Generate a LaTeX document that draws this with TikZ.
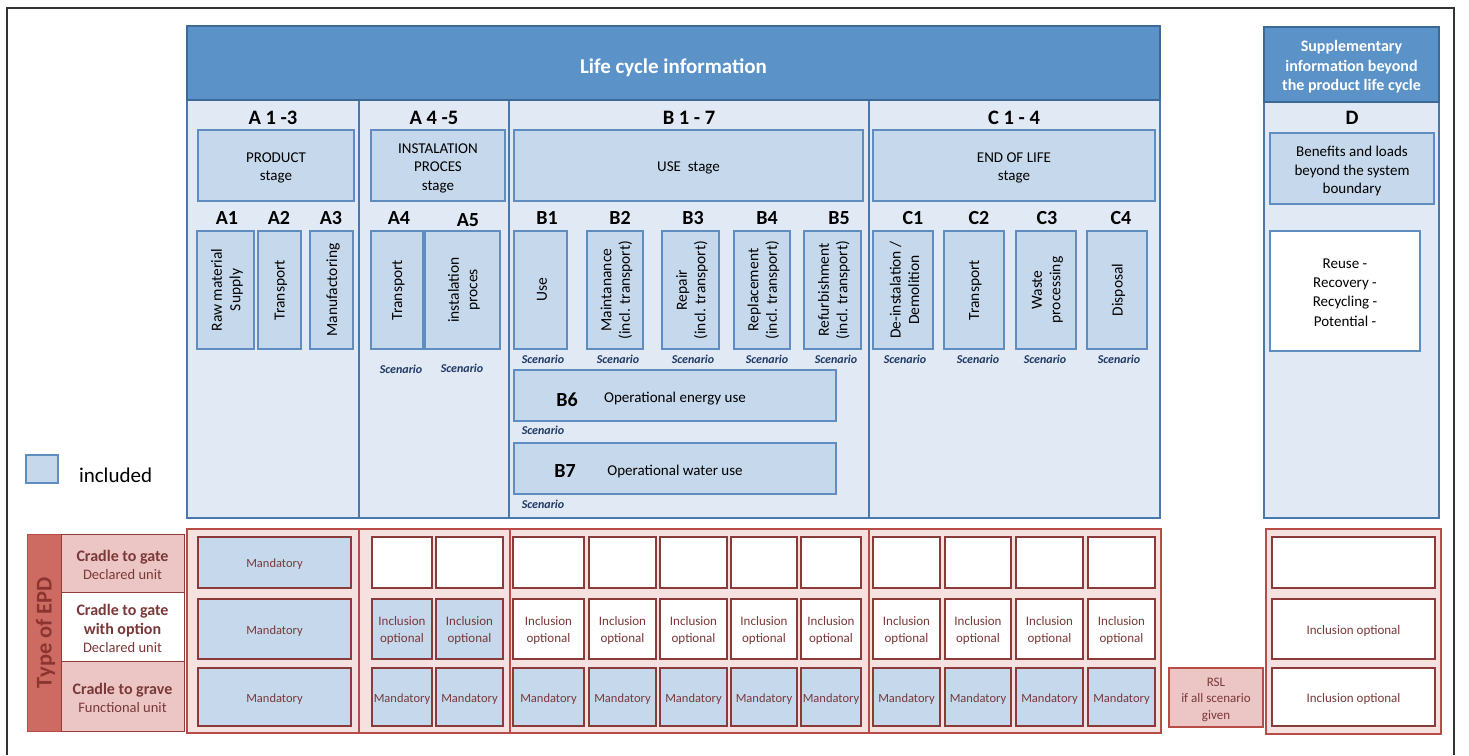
\documentclass[tikz,border=0pt]{standalone}
\usepackage{fontspec}
\setmainfont{Carlito}
\definecolor{hdr}{HTML}{5B92C8}
\definecolor{hdrborder}{HTML}{3D6997}
\definecolor{panel}{HTML}{E0E9F4}
\definecolor{panelborder}{HTML}{4A78AA}
\definecolor{inbox}{HTML}{C5D8EC}
\definecolor{inborder}{HTML}{5F8DC0}
\definecolor{scen}{HTML}{1F3864}
\definecolor{pinkfill}{HTML}{F4E1E0}
\definecolor{grpborder}{HTML}{B84C48}
\definecolor{cellborder}{HTML}{8B3A3A}
\definecolor{celltext}{HTML}{7A3838}
\definecolor{rowpink}{HTML}{EBC6C4}
\definecolor{epdfill}{HTML}{CD6B63}
\definecolor{epdtext}{HTML}{8C3530}
\definecolor{framecol}{HTML}{333333}
\tikzset{tys/.store in=\tys, tys=-2pt}
\newcommand\bx[7][]{%
  \node[#1,minimum width={(#5)-(#3)},minimum height={(#6)-(#4)}] (#2) at ({((#3)+(#5))/2},{((#4)+(#6))/2}) {};
  \node[#1,draw=none,fill=none,yshift=\tys] (#2-t) at (#2.center) {#7};}
\tikzset{
  every node/.style={inner sep=0pt,outer sep=0pt,align=center},
  hdrbox/.style={fill=hdr,draw=hdrborder,line width=2.5pt,text=white,font=\bfseries\fontsize{21}{25}\selectfont,tys=-5pt},
  dhdrbox/.style={fill=hdr,draw=hdrborder,line width=2.5pt,text=white,font=\bfseries\fontsize{16}{19.5}\selectfont,tys=-2.5pt},
  panelbox/.style={fill=panel,draw=panelborder,line width=2pt},
  stagebox/.style={fill=inbox,draw=inborder,line width=1.2pt,font=\fontsize{15}{18.5}\selectfont,tys=-2.5pt},
  wbox/.style={fill=white,draw=inborder,line width=1.2pt,font=\fontsize{15}{19.2}\selectfont,tys=-1.5pt},
  vtext/.style={rotate=90,font=\fontsize{15.5}{18.5}\selectfont},
  sect/.style={font=\bfseries\fontsize{20.5}{24}\selectfont},
  sub/.style={font=\bfseries\fontsize{20}{24}\selectfont},
  scn/.style={text=scen,font=\bfseries\itshape\fontsize{12}{14}\selectfont},
  grp/.style={fill=pinkfill,draw=grpborder,line width=2.8pt},
  cellw/.style={fill=white,draw=cellborder,line width=1.2pt,text=celltext,font=\fontsize{13}{17}\selectfont},
  cellb/.style={fill=inbox,draw=cellborder,line width=1.2pt,text=celltext,font=\fontsize{12.5}{17}\selectfont},
  rowlab/.style={draw=grpborder!80!black,line width=0.8pt,text=celltext,font=\fontsize{14.5}{18.5}\selectfont},
}
\begin{document}
\begin{tikzpicture}[x=1pt,y=-1pt]
\useasboundingbox (0,0) rectangle (1469,755);
\draw[framecol,line width=1.3pt] (7,755) -- (7,8) -- (1454,8) -- (1454,755);

% ---------- upper panels
\bx[panelbox]{colA}{187}{100}{359}{518}{}
\bx[panelbox]{colAA}{359}{100}{509}{518}{}
\bx[panelbox]{colB}{509}{100}{869}{518}{}
\bx[panelbox]{colC}{869}{100}{1160}{518}{}
\bx[hdrbox]{lci}{187}{26}{1160}{100}{Life cycle information}
\bx[panelbox]{colD}{1264}{102}{1439}{518}{}
\bx[dhdrbox]{dhdr}{1264}{27}{1439}{102}{Supplementary\\information beyond\\the product life cycle}

\node[sect] (tA) at (273,118) {A 1 -3};
\node[sect] (tAA) at (434,118) {A 4 -5};
\node[sect] (tB) at (689,118) {B 1 - 7};
\node[sect] (tC) at (1014,118) {C 1 - 4};
\node[sect] (tD) at (1352,118) {D};

\bx[stagebox]{sA}{198}{130}{354}{201}{PRODUCT\\stage}
\bx[stagebox]{sAA}{371}{130}{505}{201}{INSTALATION\\PROCES\\stage}
\bx[stagebox]{sB}{514}{130}{863}{201}{USE\ \ stage}
\bx[stagebox]{sC}{873}{130}{1155}{201}{END OF LIFE\\stage}
\bx[stagebox]{sD}{1270}{133}{1434}{204}{Benefits and loads\\beyond the system\\boundary}
\bx[wbox]{dpot}{1270}{231}{1420}{351}{Reuse -\\Recovery -\\Recycling -\\Potential -}

% module boxes
\foreach \n/\lx/\xa/\xb/\t in {
  A1/227/197/254/{Raw material\\Supply},
  A2/279/258/301/{Transport},
  A3/331/310/353/{Manufactoring},
  A4/399/371/423/{Transport},
  B1/547/514/567/{Use},
  B2/620/587/643/{Maintanance\\(incl. transport)},
  B3/693/662/719/{Repair\\(incl. transport)},
  B4/767/734/790/{Replacement\\(incl. transport)},
  B5/839/804/861/{Refurbishment\\(incl. transport)},
  C1/913/873/933/{De-instalation /\\Demolition},
  C2/979/944/1004/{Transport},
  C3/1047/1016/1076/{Waste\\processing},
  C4/1121/1087/1147/{Disposal}}{
  \node[sub] (l\n) at (\lx,218) {\n};
  \bx[stagebox]{m\n}{\xa}{231}{\xb}{349}{}
  \node[vtext] (v\n) at ([xshift=1.5pt]m\n.center) {\t};
}
\node[sub] (lA5) at (468,220) {A5};
\bx[stagebox]{mA5}{425}{231}{500}{349}{}
\node[vtext] (vA5) at ([xshift=1.5pt]mA5.center) {instalation\\proces};

% scenario labels
\foreach \n/\sx/\sy in {A4/401/369,A5/462/368,B1/543/359,B2/618/359,B3/693/359,B4/767/359,B5/836/359,
  C1/905/359,C2/978/359,C3/1045/359,C4/1119/359,B6/543/430,B7/543/504}{
  \node[scn] (sc\n) at (\sx,\sy) {Scenario};
}

\bx[stagebox]{mB6}{514}{370}{836}{421}{}
\node[sub] (lB6) at (567,400) {B6};
\node[font=\fontsize{15}{18}\selectfont] (tB6) at (675,398.5) {Operational energy use};
\bx[stagebox]{mB7}{514}{443}{836}{494}{}
\node[sub] (lB7) at (565,471) {B7};
\node[font=\fontsize{15}{18}\selectfont] (tB7) at (675,471.5) {Operational water use};

% legend
\bx[fill=inbox,draw=inborder,line width=1.2pt]{leg}{26}{455}{58}{483}{}
\node[font=\fontsize{21}{25}\selectfont,anchor=west] (legt) at (79,475) {included};

% ---------- lower part
\bx[fill=epdfill,draw=grpborder,line width=0.8pt]{epd}{27}{534}{61}{731}{}
\node[rotate=90,text=epdtext,font=\bfseries\fontsize{22.5}{26}\selectfont] (epdt) at ([xshift=1.5pt]epd.center) {Type of EPD};
\bx[rowlab,fill=rowpink]{rl1}{61}{534}{184}{592}{{\bfseries\fontsize{16}{18.5}\selectfont Cradle to gate}\\Declared unit}
\bx[rowlab,fill=white]{rl2}{61}{592}{184}{661}{{\bfseries\fontsize{16}{19}\selectfont Cradle to gate}\\{\bfseries\fontsize{16}{19}\selectfont with option}\\Declared unit}
\bx[rowlab,fill=rowpink]{rl3}{61}{661}{184}{731}{{\bfseries\fontsize{16}{18.5}\selectfont Cradle to grave}\\Functional unit}

\bx[grp]{gA}{187}{529}{359}{733}{}
\bx[grp]{gAA}{359}{529}{510}{733}{}
\bx[grp]{gB}{510}{529}{869}{733}{}
\bx[grp]{gC}{869}{529}{1161}{733}{}
\bx[grp]{gD}{1266}{529}{1441}{734}{}

\bx[cellb]{cA1}{198}{537}{351}{588}{Mandatory}
\bx[cellb]{cA2}{198}{599}{351}{659}{Mandatory}
\bx[cellb]{cA3}{198}{668}{351}{726}{Mandatory}

\foreach \n/\xa/\xb in {a4/372/432,a5/436/503}{
  \bx[cellw]{c\n r1}{\xa}{537}{\xb}{588}{}
  \bx[cellb,font=\fontsize{13}{17}\selectfont]{c\n r2}{\xa}{599}{\xb}{659}{Inclusion\\optional}
  \bx[cellb]{c\n r3}{\xa}{668}{\xb}{726}{Mandatory}
}
\foreach \n/\xa/\xb in {b1/513/584,b2/589/656,b3/660/727,b4/731/797,b5/801/861,
  c1/873/940,c2/945/1011,c3/1016/1083,c4/1088/1155}{
  \bx[cellw]{c\n r1}{\xa}{537}{\xb}{588}{}
  \bx[cellw]{c\n r2}{\xa}{599}{\xb}{659}{Inclusion\\optional}
  \bx[cellb]{c\n r3}{\xa}{668}{\xb}{726}{Mandatory}
}
\bx[cellw]{cdr1}{1272}{537}{1435}{588}{}
\bx[cellw]{cdr2}{1272}{599}{1435}{659}{Inclusion optional}
\bx[cellw]{cdr3}{1272}{668}{1435}{726}{Inclusion optional}

\bx[fill=rowpink,draw=grpborder,line width=1.2pt,text=celltext,font=\fontsize{13}{16.5}\selectfont]{rsl}{1169}{668}{1263}{727}{RSL\\if all scenario\\given}
\end{tikzpicture}
\end{document}
